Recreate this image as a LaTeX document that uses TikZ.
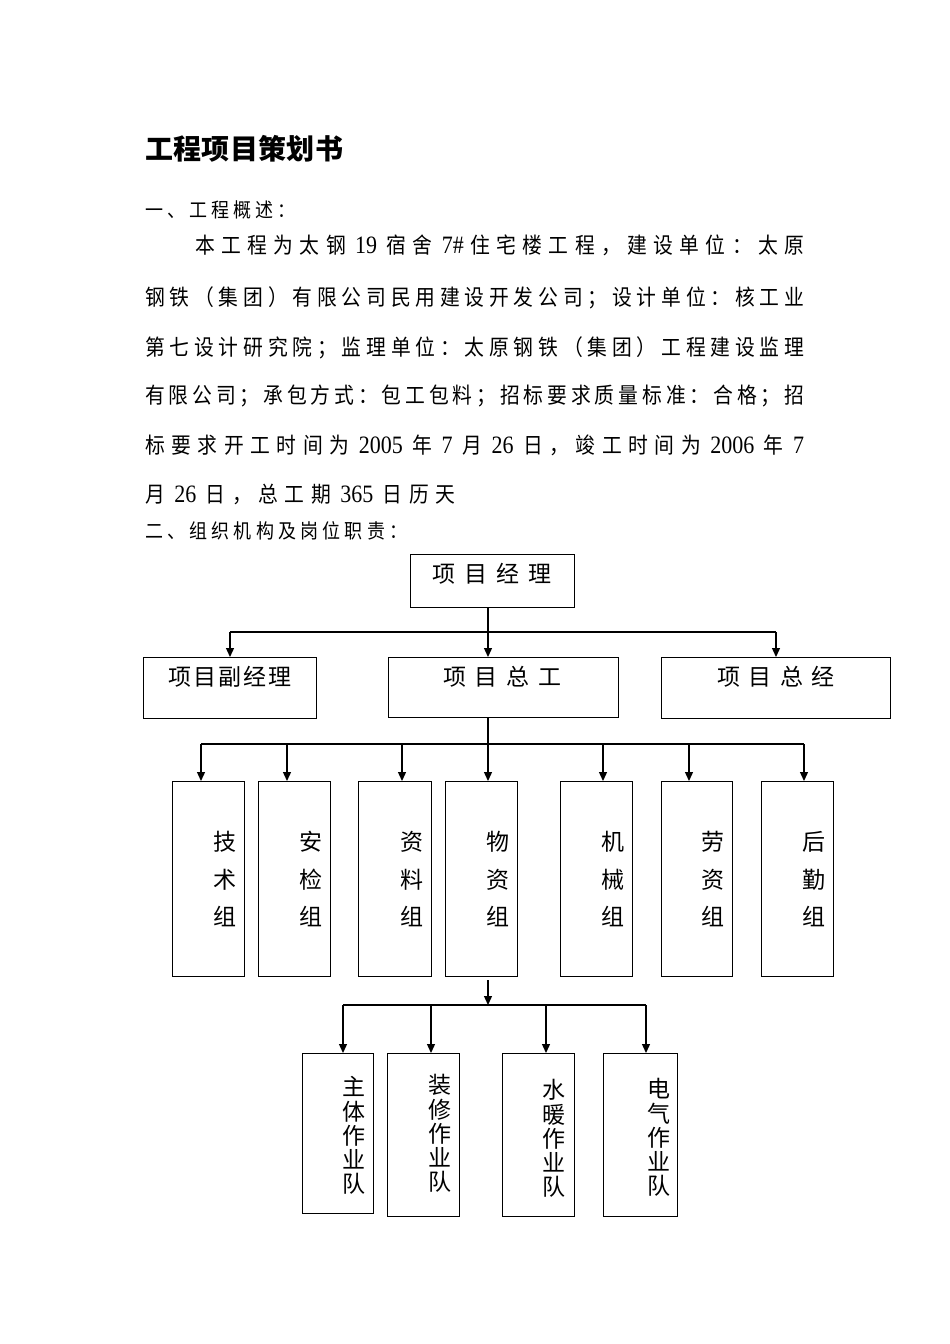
\documentclass[tikz,border=0pt]{standalone}
\usepackage{fontspec}
\usepackage{graphicx}
\setmainfont{Noto Sans CJK SC}[FakeStretch=0.9]
\newfontfamily\titlefont{Noto Sans CJK SC}
\newfontfamily\chartfont{Noto Sans CJK SC}
\newfontfamily\latfont{Liberation Serif}
\usetikzlibrary{arrows.meta,calc}
\makeatletter
\def\spr@end{\spr@end}
\def\spr#1{\def\spr@tmp{#1}\ifx\spr@tmp\spr@end\else\hfil{#1}\expandafter\spr\fi}
\def\spr@a#1{{#1}\spr}
\newcommand\spreadline[2]{\hbox to #1{\spr@a#2\spr@end}}
\makeatother
\newcommand\digs[1]{\scalebox{0.88}[1]{\latfont\fontsize{25}{25}\selectfont #1}}
\newcommand\dg[1]{\hspace{3pt}\digs{#1}\hspace{3pt}}
\newcommand\dgl[1]{\hspace{3pt}\digs{#1}}
\newcommand\vlabel[5]{\foreach \ch [count=\i] in {#5}{\node[chart] (#1-\i) at (#2,{#3+(\i-1)*#4}) {\ch};}}
\begin{document}
\begin{tikzpicture}[x=1pt,y=-1pt,
  body/.style={font=\fontsize{22}{22}\selectfont, inner sep=0pt, text height=19.4pt, text depth=2.6pt, anchor=west},
  head/.style={font=\fontsize{20}{20}\selectfont, inner sep=0pt, text height=17.6pt, text depth=2.4pt, anchor=west},
  chart/.style={font=\chartfont\fontsize{23}{23}\selectfont, inner sep=0pt, text height=20.2pt, text depth=2.8pt},
  box/.style={draw, line width=1.3pt, inner sep=0pt, anchor=north west},
  line/.style={line width=1.3pt},
  arr/.style={line width=1.3pt, -{Triangle[length=9pt,width=8pt]}}]
\useasboundingbox (0,0) rectangle (950,1344);
\fill[white] (0,0) rectangle (950,1344);

% ---- texts ----
\node[anchor=west, inner sep=0pt, text height=24.6pt, text depth=3.4pt,
  font=\titlefont\bfseries\fontsize{28}{28}\selectfont] (title) at (145,149)
  {\spreadline{198pt}{工程项目策划书}};
\node[head] (h1) at (145,210) {\spreadline{150pt}{一、工程概述：}};
\node[body] (l1) at (195,245) {\spreadline{609pt}{本工程为太钢{\dg{19}}宿舍{\dgl{7\#}}住宅楼工程，建设单位：太原}};
\node[body] (l2) at (145,297) {\spreadline{659pt}{钢铁（集团）有限公司民用建设开发公司；设计单位：核工业}};
\node[body] (l3) at (145,347) {\spreadline{659pt}{第七设计研究院；监理单位：太原钢铁（集团）工程建设监理}};
\node[body] (l4) at (145,395) {\spreadline{659pt}{有限公司；承包方式：包工包料；招标要求质量标准：合格；招}};
\node[body] (l5) at (145,445) {\spreadline{659pt}{标要求开工时间为{\dg{2005}}年{\dg{7}}月{\dg{26}}日，竣工时间为{\dg{2006}}年{\dgl{7}}}};
\node[body] (l6) at (145,494) {\spreadline{310pt}{月{\dg{26}}日，总工期{\dg{365}}日历天}};
\node[head] (h2) at (145,531) {\spreadline{262pt}{二、组织机构及岗位职责：}};

% ---- level 1 and 2 ----
\node[box, minimum width=164, minimum height=53] (pm) at (410,554) {};
\node[chart] (pmt) at (492,574) {\spreadline{120pt}{项目经理}};

\node[box, minimum width=173, minimum height=61] (vpm) at (143,657) {};
\node[chart] (vpmt) at (230,677) {\spreadline{124pt}{项目副经理}};
\node[box, minimum width=230, minimum height=60] (cz) at (388,657) {};
\node[chart] (czt) at (502.5,677) {\spreadline{119pt}{项目总工}};
\node[box, minimum width=229, minimum height=61] (zj) at (661,657) {};
\node[chart] (zjt) at (776,677) {\spreadline{118pt}{项目总经}};

\coordinate (j1) at (488,632);
\coordinate (b1l) at (230,632);
\coordinate (b1r) at (776,632);
\draw[line] (j1 |- pm.south) -- (j1);
\draw[line] (b1l) -- (b1r);
\draw[arr] (b1l) -- (b1l |- vpm.north);
\draw[arr] (j1) -- (j1 |- cz.north);
\draw[arr] (b1r) -- (b1r |- zj.north);

% ---- level 3 ----
\node[box, minimum width=72, minimum height=195] (g1) at (172,781) {};
\node[box, minimum width=72, minimum height=195] (g2) at (258,781) {};
\node[box, minimum width=73, minimum height=195] (g3) at (358,781) {};
\node[box, minimum width=72, minimum height=195] (g4) at (445,781) {};
\node[box, minimum width=72, minimum height=195] (g5) at (560,781) {};
\node[box, minimum width=71, minimum height=195] (g6) at (661,781) {};
\node[box, minimum width=72, minimum height=195] (g7) at (761,781) {};
\vlabel{g1t}{225}{842}{37.5}{技,术,组}
\vlabel{g2t}{311}{842}{37.5}{安,检,组}
\vlabel{g3t}{412}{842}{37.5}{资,料,组}
\vlabel{g4t}{498}{842}{37.5}{物,资,组}
\vlabel{g5t}{613}{842}{37.5}{机,械,组}
\vlabel{g6t}{713}{842}{37.5}{劳,资,组}
\vlabel{g7t}{814}{842}{37.5}{后,勤,组}

\coordinate (j2) at (488,744);
\coordinate (d1) at (201,744);
\coordinate (d2) at (287,744);
\coordinate (d3) at (402,744);
\coordinate (d5) at (603,744);
\coordinate (d6) at (689,744);
\coordinate (d7) at (804,744);
\draw[line] (j2 |- cz.south) -- (j2);
\draw[line] (d1) -- (d7);
\draw[arr] (d1) -- (d1 |- g1.north);
\draw[arr] (d2) -- (d2 |- g2.north);
\draw[arr] (d3) -- (d3 |- g3.north);
\draw[arr] (j2) -- (j2 |- g4.north);
\draw[arr] (d5) -- (d5 |- g5.north);
\draw[arr] (d6) -- (d6 |- g6.north);
\draw[arr] (d7) -- (d7 |- g7.north);

% ---- level 4 ----
\node[box, minimum width=71, minimum height=160] (t1) at (302,1053) {};
\node[box, minimum width=72, minimum height=163] (t2) at (387,1053) {};
\node[box, minimum width=72, minimum height=163] (t3) at (502,1053) {};
\node[box, minimum width=74, minimum height=163] (t4) at (603,1053) {};
\vlabel{t1t}{354}{1087}{24.3}{主,体,作,业,队}
\vlabel{t2t}{440}{1085}{24.3}{装,修,作,业,队}
\vlabel{t3t}{554}{1090}{24.3}{水,暖,作,业,队}
\vlabel{t4t}{659}{1089}{24.3}{电,气,作,业,队}

\coordinate (j3) at (488,1005);
\coordinate (e1) at (343,1005);
\coordinate (e2) at (431,1005);
\coordinate (e3) at (546,1005);
\coordinate (e4) at (646,1005);
\draw[arr, shorten <=3pt] (j3 |- g4.south) -- (j3);
\draw[line] (e1) -- (e4);
\draw[arr] (e1) -- (e1 |- t1.north);
\draw[arr] (e2) -- (e2 |- t2.north);
\draw[arr] (e3) -- (e3 |- t3.north);
\draw[arr] (e4) -- (e4 |- t4.north);
\end{tikzpicture}
\end{document}
